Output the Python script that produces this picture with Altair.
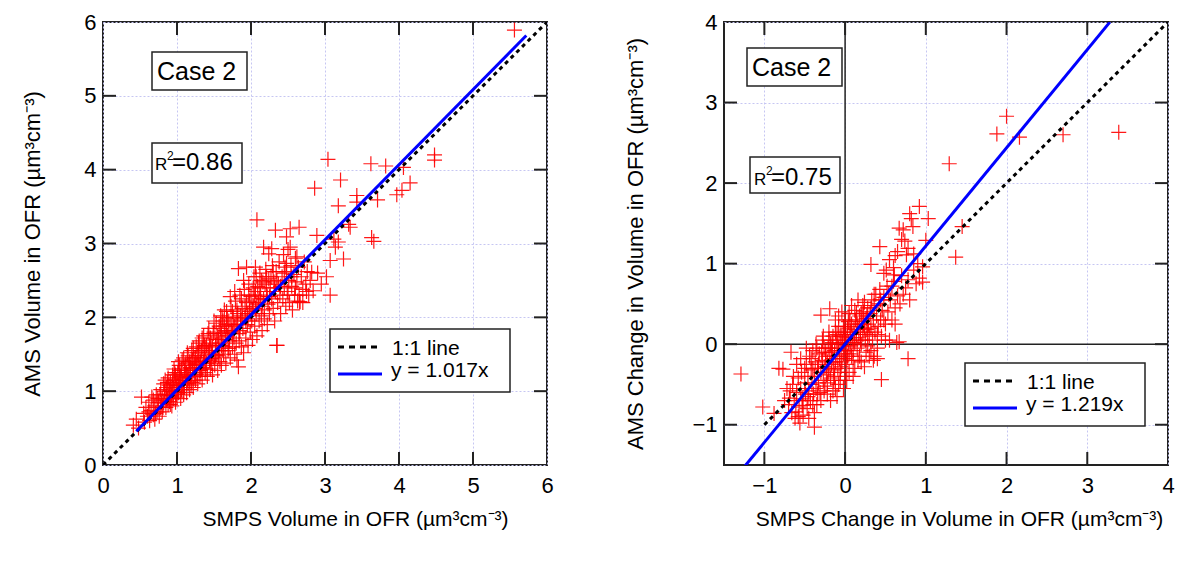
import altair as alt
import pandas as pd

FONT = "Liberation Sans"

# ---------------- data ----------------
left_cloud = [
    (0.41, 0.54), (0.45, 0.62), (0.48, 0.50), (0.52, 0.92), (0.55, 0.70), (0.56, 0.58), (0.58, 0.78),
    (0.60, 0.66), (0.62, 0.85), (0.63, 0.60), (0.65, 0.74), (0.66, 0.92), (0.68, 0.68), (0.70, 0.80),
    (0.70, 0.62), (0.72, 0.95), (0.73, 0.72), (0.75, 0.85), (0.76, 0.66), (0.78, 1.02), (0.78, 0.78),
    (0.80, 0.90), (0.80, 0.72), (0.82, 1.10), (0.82, 0.84), (0.84, 0.96), (0.85, 0.78), (0.86, 1.05),
    (0.87, 0.90), (0.88, 1.18), (0.88, 0.82), (0.90, 1.00), (0.90, 0.86), (0.91, 1.12), (0.92, 0.94),
    (0.93, 0.80), (0.94, 1.22), (0.95, 1.05), (0.95, 0.90), (0.96, 1.30), (0.97, 1.00), (0.98, 0.85),
    (0.99, 1.15), (1.00, 1.08), (1.00, 0.92), (1.01, 1.25), (1.02, 0.98), (1.03, 1.35), (1.04, 1.12),
    (1.05, 0.90), (1.05, 1.20), (1.06, 1.02), (1.07, 1.42), (1.08, 1.15), (1.09, 0.95), (1.10, 1.28),
    (1.10, 1.05), (1.11, 1.18), (1.12, 1.38), (1.13, 0.98), (1.14, 1.22), (1.15, 1.10), (1.15, 1.48),
    (1.16, 1.30), (1.17, 1.02), (1.18, 1.20), (1.19, 1.40), (1.20, 1.12), (1.20, 1.55), (1.21, 1.30),
    (1.22, 1.05), (1.23, 1.45), (1.24, 1.22), (1.25, 1.15), (1.26, 1.60), (1.27, 1.35), (1.28, 1.10),
    (1.29, 1.48), (1.30, 1.28), (1.30, 1.68), (1.31, 1.20), (1.32, 1.40), (1.33, 1.55), (1.34, 1.15),
    (1.35, 1.32), (1.36, 1.75), (1.37, 1.45), (1.38, 1.25), (1.39, 1.60), (1.40, 1.38), (1.41, 1.20),
    (1.42, 1.52), (1.43, 1.85), (1.44, 1.42), (1.45, 1.30), (1.46, 1.65), (1.47, 1.50), (1.48, 1.22),
    (1.49, 1.78), (1.50, 1.45), (1.51, 1.35), (1.52, 1.62), (1.53, 1.92), (1.54, 1.50), (1.55, 1.28),
    (1.56, 1.70), (1.57, 1.55), (1.58, 1.40), (1.59, 1.85), (1.60, 1.62), (1.60, 1.35), (1.61, 2.00),
    (1.62, 1.72), (1.63, 1.50), (1.64, 1.88), (1.65, 1.60), (1.66, 1.38), (1.67, 2.08), (1.68, 1.75),
    (1.69, 1.55), (1.70, 1.95), (1.71, 1.68), (1.72, 1.45), (1.73, 2.15), (1.74, 1.82), (1.75, 1.60),
    (1.76, 2.00), (1.77, 1.72), (1.78, 1.50), (1.79, 2.22), (1.80, 1.90), (1.80, 1.65), (1.81, 1.42),
    (1.82, 2.05), (1.83, 1.33), (1.84, 1.78), (1.85, 2.30), (1.86, 1.95), (1.87, 1.60), (1.88, 2.12),
    (1.89, 1.85), (1.90, 1.52), (1.91, 2.38), (1.92, 2.00), (1.93, 1.72), (1.94, 2.20), (1.95, 1.90),
    (1.96, 1.62), (1.97, 2.45), (1.98, 2.08), (1.99, 1.80), (2.00, 2.28), (2.01, 1.95), (2.02, 1.70),
    (2.03, 2.15), (2.04, 2.55), (2.05, 1.88), (2.06, 2.35), (2.07, 2.05), (2.08, 1.75), (2.09, 2.42),
    (2.10, 2.20), (2.11, 1.95), (2.12, 2.60), (2.13, 2.30), (2.14, 2.02), (2.15, 1.82), (2.16, 2.48),
    (2.17, 2.25), (2.18, 2.10), (2.20, 2.65), (2.21, 2.35), (2.22, 1.90), (2.23, 2.18), (2.24, 2.52),
    (2.25, 2.05), (2.26, 2.40), (2.28, 2.25), (2.29, 2.70), (2.30, 2.12), (2.31, 2.48), (2.32, 1.95),
    (2.33, 2.35), (2.34, 2.62), (2.35, 1.62), (2.36, 2.20), (2.37, 2.45), (2.38, 2.75), (2.39, 2.30),
    (2.40, 2.05), (2.42, 2.55), (2.43, 2.25), (2.44, 2.85), (2.45, 2.40), (2.47, 2.15), (2.48, 2.62),
    (2.49, 2.35), (2.50, 2.92), (2.51, 2.50), (2.52, 2.20), (2.54, 2.70), (2.55, 2.42), (2.56, 2.10),
    (2.58, 2.58), (2.59, 2.30), (2.60, 2.80), (2.62, 2.48), (2.63, 2.22), (2.64, 2.68), (2.66, 2.21),
    (2.68, 2.55), (2.70, 2.38), (2.72, 2.75), (2.74, 2.45), (2.76, 2.62), (2.78, 2.30), (2.80, 2.50),
    (0.74, 0.90), (0.79, 0.84), (0.83, 1.00), (0.87, 1.12), (0.89, 0.95), (0.92, 1.05), (0.96, 1.15),
    (0.98, 1.22), (1.01, 1.00), (1.03, 1.18), (1.06, 1.30), (1.08, 1.05), (1.11, 1.35), (1.13, 1.25),
    (1.16, 1.18), (1.18, 1.32), (1.21, 1.42), (1.23, 1.28), (1.26, 1.38), (1.28, 1.52), (1.31, 1.48),
    (1.33, 1.30), (1.35, 1.58), (1.38, 1.42), (1.40, 1.62), (1.43, 1.55), (1.45, 1.72), (1.48, 1.60),
    (1.50, 1.80), (1.52, 1.48), (1.55, 1.75), (1.57, 1.88), (1.60, 1.78), (1.62, 1.95), (1.65, 1.82),
    (1.68, 1.98), (1.70, 1.80), (1.73, 1.92), (1.75, 2.08), (1.78, 1.88), (1.82, 1.90), (1.85, 1.82),
    (1.88, 1.98), (1.92, 2.15), (1.95, 2.05), (1.98, 2.22), (2.02, 2.10), (2.05, 2.30), (2.08, 2.18),
    (2.12, 2.40), (2.15, 2.15), (2.19, 2.45), (2.22, 2.28), (2.27, 2.55), (2.32, 2.40), (1.02, 1.08),
    (0.93, 0.99), (0.86, 0.88), (1.14, 1.14), (1.24, 1.36), (1.36, 1.40), (1.46, 1.44), (1.58, 1.65),
    (1.66, 1.70), (1.76, 1.80), (1.86, 2.02), (1.96, 1.98), (2.06, 2.12),
    (0.62, 0.72), (0.68, 0.88), (0.71, 0.70), (0.77, 0.95), (0.81, 0.78), (0.84, 1.15), (0.89, 1.08),
    (0.91, 0.82), (0.94, 1.10), (0.97, 1.25), (0.99, 0.96), (1.02, 1.40), (1.04, 1.28), (1.07, 1.10),
    (1.09, 1.45), (1.12, 1.22), (1.14, 1.52), (1.17, 1.40), (1.19, 1.08), (1.22, 1.58), (1.25, 1.45),
    (1.27, 1.22), (1.29, 1.65), (1.32, 1.28), (1.34, 1.72), (1.37, 1.62), (1.39, 1.30), (1.42, 1.78),
    (1.44, 1.62), (1.47, 1.38), (1.50, 1.95), (1.53, 1.70), (1.56, 1.48), (1.59, 2.02), (1.61, 1.55),
    (1.64, 2.10), (1.67, 1.90), (1.70, 1.58), (1.72, 2.28), (1.75, 1.78), (1.78, 2.35), (1.81, 2.10),
    (1.84, 1.68), (1.87, 2.25), (1.90, 2.50), (1.93, 1.95), (1.97, 2.30), (2.00, 2.05), (2.03, 2.40),
    (2.07, 2.55), (2.11, 2.25), (2.14, 2.50), (2.18, 1.98), (2.21, 2.55), (2.25, 2.28), (2.30, 2.62),
    (2.35, 2.50), (2.40, 2.42), (2.45, 2.60), (2.50, 2.30), (2.55, 2.55), (2.60, 2.40), (2.65, 2.30),
    (2.70, 2.20), (2.75, 2.35),
]
left_outliers = [
    (5.56, 5.89), (3.04, 4.14), (3.62, 4.08), (3.82, 4.05), (4.06, 4.03), (4.48, 4.20), (4.48, 4.13),
    (3.21, 3.86), (2.86, 3.75), (3.43, 3.65), (4.15, 3.82), (4.04, 3.72), (3.97, 3.66), (3.71, 3.59),
    (3.18, 3.51), (3.43, 3.56), (3.63, 3.08), (3.66, 3.03), (3.32, 3.26), (3.34, 3.22), (2.08, 3.32),
    (2.33, 3.18), (2.53, 3.20), (2.65, 3.22), (2.48, 3.09), (2.89, 3.11), (3.12, 3.06), (3.14, 2.95),
    (3.18, 3.02), (2.17, 2.95), (2.28, 2.93), (2.24, 2.86), (2.53, 2.95), (2.62, 2.82), (3.25, 2.79),
    (3.07, 2.77), (1.83, 2.66), (1.94, 2.68), (2.06, 2.68), (2.48, 2.73), (2.46, 2.68), (2.82, 2.61),
    (3.02, 2.55), (3.07, 2.30), (2.84, 2.36), (2.35, 1.62), (2.66, 2.21), (2.95, 2.45), (2.90, 2.60),
]

right_cloud = [
    (-0.30, -0.35), (-0.28, -0.20), (-0.27, -0.45), (-0.25, -0.28), (-0.24, -0.10), (-0.23, -0.38),
    (-0.22, -0.22), (-0.21, -0.05), (-0.20, -0.30), (-0.19, -0.15), (-0.18, -0.42), (-0.17, -0.25),
    (-0.16, 0.02), (-0.15, -0.18), (-0.14, -0.32), (-0.13, -0.08), (-0.12, -0.22), (-0.11, 0.05),
    (-0.10, -0.15), (-0.09, -0.30), (-0.08, -0.05), (-0.07, -0.18), (-0.06, 0.10), (-0.05, -0.08),
    (-0.04, -0.22), (-0.03, 0.02), (-0.02, -0.12), (-0.01, 0.15), (0.00, -0.02), (0.00, -0.18),
    (0.01, 0.08), (0.02, -0.08), (0.03, 0.20), (0.04, 0.02), (0.05, -0.12), (0.06, 0.12), (0.07, -0.02),
    (0.08, 0.25), (0.09, 0.08), (0.10, -0.08), (0.11, 0.18), (0.12, 0.02), (0.13, 0.30), (0.14, 0.12),
    (0.15, -0.05), (0.16, 0.22), (0.17, 0.08), (0.18, 0.35), (0.19, 0.15), (0.20, 0.00), (0.21, 0.28),
    (0.22, 0.12), (0.23, 0.40), (0.24, 0.20), (0.25, 0.05), (0.26, 0.32), (0.27, 0.18), (0.28, 0.45),
    (0.29, 0.25), (0.30, 0.10),
    (-0.70, -0.75), (-0.68, -0.58), (-0.66, -0.85), (-0.65, -0.50), (-0.63, -0.70), (-0.62, -0.92),
    (-0.60, -0.60), (-0.58, -0.42), (-0.57, -0.78), (-0.55, -0.55), (-0.54, -0.35), (-0.53, -0.68),
    (-0.52, -0.88), (-0.50, -0.48), (-0.49, -0.62), (-0.48, -0.25), (-0.47, -0.80), (-0.46, -0.40),
    (-0.45, -0.58), (-0.44, -0.15), (-0.43, -0.70), (-0.42, -0.32), (-0.41, -0.50), (-0.40, -0.08),
    (-0.39, -0.62), (-0.38, -0.40), (-0.37, -0.22), (-0.36, -0.55), (-0.35, -0.75), (-0.34, -0.30),
    (-0.33, -0.48), (-0.32, -0.12), (-0.31, -0.60),
    (0.31, 0.38), (0.32, 0.20), (0.33, 0.55), (0.34, 0.05), (0.35, 0.30), (0.36, 0.48), (0.37, 0.15),
    (0.38, 0.62), (0.39, 0.35), (0.40, -0.05), (0.41, 0.22), (0.42, 0.50), (0.43, 0.68), (0.44, 0.30),
    (0.45, 0.10), (0.46, 0.42), (0.48, 0.58), (0.50, 0.25), (0.52, 0.72), (0.53, 0.40), (0.55, 0.05),
    (0.56, 0.55), (0.58, 0.30), (0.60, 0.78), (0.62, 0.45), (0.64, 0.02), (0.65, 0.60), (0.68, 0.50),
    (0.70, 0.85), (0.72, 0.62), (0.75, 0.70), (0.78, 0.80), (0.80, 0.55), (0.85, 0.92), (0.88, 0.75),
    (0.92, 0.82),
    (-0.26, -0.05), (-0.22, -0.48), (-0.18, 0.00), (-0.14, -0.45), (-0.10, 0.12), (-0.06, -0.35),
    (-0.02, 0.22), (0.02, -0.25), (0.06, 0.30), (0.10, -0.20), (0.14, 0.38), (0.18, -0.15), (0.22, 0.48),
    (0.26, -0.10), (-0.29, -0.10), (-0.25, -0.52), (-0.21, -0.35), (-0.17, -0.10), (-0.13, -0.40),
    (-0.09, 0.00), (-0.05, -0.28), (-0.01, 0.05), (0.03, -0.15), (0.07, 0.15), (0.11, 0.05), (0.15, 0.25),
    (0.19, 0.05), (0.23, 0.25), (0.27, 0.35), (0.05, 0.38), (-0.08, 0.22), (-0.15, 0.10), (0.12, -0.30),
    (0.20, -0.22), (0.28, -0.02), (0.32, -0.08), (0.36, -0.15), (0.24, -0.28), (-0.35, -0.05),
    (-0.28, 0.05), (-0.20, 0.15), (-0.12, 0.30), (-0.04, 0.40), (0.00, 0.30), (0.08, 0.48), (0.16, 0.55),
    (-0.45, -0.92), (-0.38, -0.85), (-0.30, -0.70), (-0.22, -0.62), (-0.15, -0.58), (-0.08, -0.50),
    (0.00, -0.40), (-0.10, -0.65), (-0.02, -0.55), (0.05, -0.35),
    (-0.60, -0.25), (-0.55, -0.18), (-0.50, -0.30), (-0.48, -0.05), (-0.42, -0.18), (-0.40, -0.30),
    (-0.36, 0.00), (-0.33, -0.25), (-0.27, 0.10), (-0.24, -0.15), (-0.20, 0.05), (-0.16, -0.05),
    (-0.12, 0.15), (-0.08, 0.35), (-0.04, 0.10), (0.00, 0.12), (0.04, 0.28), (0.08, -0.15), (0.12, 0.42),
    (0.16, -0.20), (0.20, 0.38), (0.24, 0.52), (0.28, 0.15), (0.32, 0.45), (0.36, 0.62), (0.40, 0.12),
    (0.44, 0.55), (0.48, 0.30), (0.50, 0.05), (0.54, 0.62), (0.58, 0.72), (0.62, 0.25), (0.35, -0.20),
    (0.30, -0.15), (0.40, -0.18), (-0.58, -0.90), (-0.52, -0.70), (-0.46, -0.65), (-0.40, -0.75),
    (-0.34, -0.62), (-0.26, -0.58), (-0.18, -0.70), (-0.12, -0.55), (-0.06, -0.45), (0.02, -0.45),
    (0.10, -0.40), (-0.64, -0.40), (-0.72, -0.55), (-0.75, -0.70), (-0.56, -0.98),
]
right_outliers = [
    (2.00, 2.83), (1.88, 2.61), (2.16, 2.57), (2.70, 2.60), (3.39, 2.63), (1.29, 2.24), (1.45, 1.46),
    (1.37, 1.08), (0.92, 1.71), (0.80, 1.62), (0.82, 1.56), (1.03, 1.56), (0.67, 1.44), (0.72, 1.42),
    (0.84, 1.46), (1.00, 1.29), (0.78, 1.19), (0.76, 1.11), (0.43, 1.21), (0.32, 0.99), (0.96, 0.96),
    (0.96, 0.77), (0.51, 0.92), (0.61, 0.86), (-1.29, -0.37), (-0.82, -0.30), (-0.77, -0.31),
    (-1.02, -0.78), (-0.88, -0.86), (-0.38, -1.03), (0.45, -0.44), (0.78, -0.18), (0.67, 0.03),
    (-0.30, 0.36), (-0.19, 0.44), (-0.67, -0.10), (-0.61, -0.84), (-0.69, -0.67), (-0.53, -0.76),
    (0.62, 1.10), (0.70, 1.30), (0.55, 1.05), (0.48, 0.88), (0.74, 1.28), (0.65, 1.15), (0.85, 1.12),
    (0.90, 1.00), (0.60, 0.95),
]

left_slope = 1.017
right_slope = 1.219
left_fit_x = [0.45, 5.72]
right_fit_x = [-1.25, 3.28]
left_unity_x = [0, 6]
right_unity_x = [-1, 4]
left_domain = [0, 6]
right_domain = [-1.5, 4]
left_tick_values = [1, 2, 3, 4, 5]
right_tick_values = [-1, 0, 1, 2, 3]
left_label_values = [0, 1, 2, 3, 4, 5, 6]
right_label_values = [-1, 0, 1, 2, 3, 4]

UNIT = "(\u00b5m\u00b3cm\u207b\u00b3)"
left_xtitle = "SMPS Volume in OFR " + UNIT
left_ytitle = "AMS Volume in OFR " + UNIT
right_xtitle = "SMPS Change in Volume in OFR " + UNIT
right_ytitle = "AMS Change in Volume in OFR " + UNIT

W, H = 444, 443
PLUS = "M-1,0L1,0M0,-1L0,1"
TICK = 13


def panel(cloud, outliers, slope, fit_x, unity_x, domain, tick_values, label_values,
          xtitle, ytitle, r2_text, fit_label, zero_lines, ann, yext, ytpad, xtitle_x):
    xs = alt.Scale(domain=domain, nice=False, zero=False)
    ys = alt.Scale(domain=domain, nice=False, zero=False)
    common = dict(values=label_values, ticks=False, domain=False, grid=True,
                  gridColor="#c6c6f2", gridDash=[2, 2], gridWidth=1,
                  labelFont=FONT, labelFontSize=22, labelColor="black",
                  titleFont=FONT, titleFontWeight="normal",
                  titleColor="black", labelOverlap=False)
    xaxis = alt.Axis(title=xtitle, labelPadding=10, titlePadding=12, labelFlush=False,
                     titleX=xtitle_x, titleFontSize=21, **common)
    yaxis = alt.Axis(title=ytitle, labelPadding=7, minExtent=yext, maxExtent=yext,
                     titlePadding=ytpad, titleFontSize=22, **common)
    X = lambda: alt.X("x:Q", scale=xs, axis=xaxis)
    Y = lambda: alt.Y("y:Q", scale=ys, axis=yaxis)

    pts = pd.DataFrame(cloud + outliers, columns=["x", "y"])
    points = alt.Chart(pts).mark_point(shape=PLUS, filled=False, color="#ff0000",
                                       strokeWidth=1.2, size=225, opacity=0.9).encode(x=X(), y=Y())

    unity = pd.DataFrame({"x": unity_x, "y": unity_x})
    unity_line = alt.Chart(unity).mark_line(color="black", strokeWidth=3, strokeDash=[4, 4],
                                            clip=True).encode(x=X(), y=Y())
    fit = pd.DataFrame({"x": fit_x, "y": [slope * v for v in fit_x]})
    fit_line = alt.Chart(fit).mark_line(color="#0000ff", strokeWidth=3, clip=True).encode(x=X(), y=Y())

    tx = pd.DataFrame({"x": tick_values})
    ty = pd.DataFrame({"y": tick_values})
    tick_style = dict(color="#222222", strokeWidth=2)
    ticks = [
        alt.Chart(tx).mark_rule(**tick_style).encode(x=X(), y=alt.value(H), y2=alt.value(H - TICK)),
        alt.Chart(tx).mark_rule(**tick_style).encode(x=X(), y=alt.value(0), y2=alt.value(TICK)),
        alt.Chart(ty).mark_rule(**tick_style).encode(y=Y(), x=alt.value(0), x2=alt.value(TICK)),
        alt.Chart(ty).mark_rule(**tick_style).encode(y=Y(), x=alt.value(W), x2=alt.value(W - TICK)),
    ]

    layers = []
    if zero_lines:
        layers.append(alt.Chart(pd.DataFrame({"x": [0]})).mark_rule(color="#222222", strokeWidth=1.5)
                      .encode(x=X()))
        layers.append(alt.Chart(pd.DataFrame({"y": [0]})).mark_rule(color="#222222", strokeWidth=1.5)
                      .encode(y=Y()))
    layers += [points, unity_line, fit_line] + ticks

    one = pd.DataFrame({"a": [0]})

    def box(x1, x2, y1, y2):
        return alt.Chart(one).mark_rect(fill="white", stroke="#222222", strokeWidth=1.5).encode(
            x=alt.value(x1), x2=alt.value(x2), y=alt.value(y1), y2=alt.value(y2))

    def txt(s, x, y, size):
        return alt.Chart(one).mark_text(text=s, font=FONT, fontSize=size, align="left",
                                        baseline="alphabetic", color="black").encode(
            x=alt.value(x), y=alt.value(y))

    def seg(x1, x2, y, color, dash=None):
        kw = dict(color=color, strokeWidth=3)
        if dash:
            kw["strokeDash"] = dash
        return alt.Chart(one).mark_rule(**kw).encode(x=alt.value(x1), x2=alt.value(x2), y=alt.value(y))

    cb, cx, cy, rb, rx, rx2, ry, lb = ann
    # Case box
    layers.append(box(*cb))
    layers.append(txt("Case 2", cx, cy, 25))
    # R^2 box
    layers.append(box(*rb))
    layers.append(txt("R", rx, ry, 17))
    layers.append(txt("2", rx + 12, ry - 10, 12))
    layers.append(txt(r2_text, rx2, ry, 24))
    # legend box
    lx, ly = lb
    layers.append(box(lx, lx + 180, ly, ly + 63))
    layers.append(seg(lx + 8, lx + 50, ly + 18, "black", [6, 5]))
    layers.append(txt("1:1 line", lx + 62, ly + 26, 21))
    layers.append(seg(lx + 8, lx + 52, ly + 45, "#0000ff"))
    layers.append(txt(fit_label, lx + 61, ly + 48, 21))

    return alt.layer(*layers).properties(width=W, height=H)


left = panel(left_cloud, left_outliers, left_slope, left_fit_x, left_unity_x, left_domain,
             left_tick_values, left_label_values, left_xtitle, left_ytitle, "=0.86", "y = 1.017x",
             False,
             ((49, 144, 30, 68), 54, 58, (49, 139, 121, 161), 52, 69, 148, (227, 307)),
             45, 14, 252)
right = panel(right_cloud, right_outliers, right_slope, right_fit_x, right_unity_x, right_domain,
              right_tick_values, right_label_values, right_xtitle, right_ytitle, "=0.75", "y = 1.219x",
              True,
              ((23, 118, 26, 64), 28, 54, (26, 116, 135, 171), 30, 47, 163, (241, 341)),
              60, 17, 235)

chart = alt.hconcat(left, right, spacing=68).properties(
    padding={"left": 20, "top": 10, "right": 5, "bottom": 5},
    background="white",
).configure_view(stroke="#222222", strokeWidth=2)

chart.save("out.html", embed_options={"renderer": "svg", "actions": False})
